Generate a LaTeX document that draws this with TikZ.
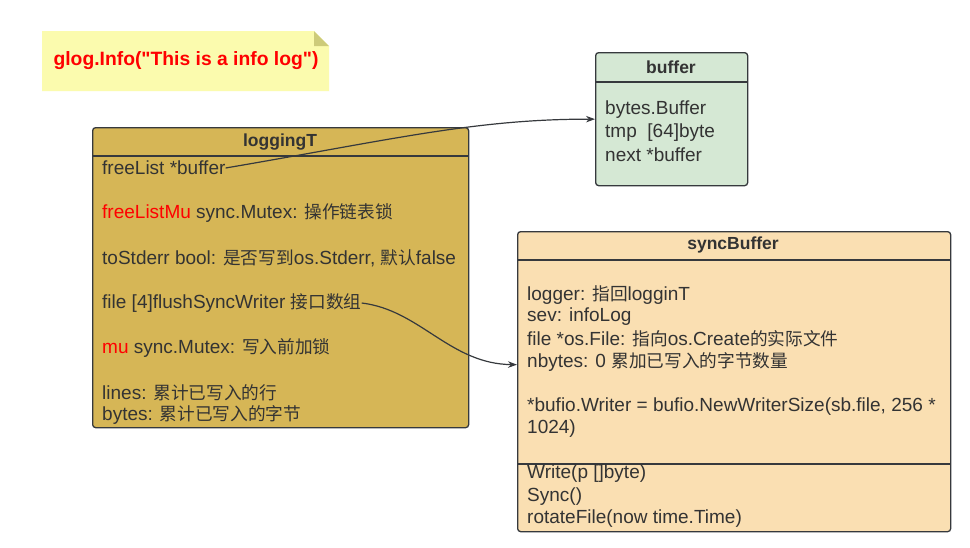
\documentclass[tikz,border=0pt]{standalone}
\usepackage{fontspec}
\setmainfont{Liberation Sans}[Ligatures=TeXOff]
\newfontfamily\cjk[Scale=0.93]{Noto Sans CJK SC}
\usetikzlibrary{arrows.meta}

\newcommand{\zh}[1]{{\cjk #1}}

\definecolor{boxline}{HTML}{36393D}
\definecolor{txtgray}{HTML}{333333}
\definecolor{notefill}{HTML}{FBFBAE}
\definecolor{notefold}{HTML}{CDCB7A}
\definecolor{logfill}{HTML}{D6B656}
\definecolor{buffill}{HTML}{D5E8D4}
\definecolor{syncfill}{HTML}{FADFB2}

\tikzset{
    umlbox/.style={draw=boxline, line width=1.3pt, rounded corners=3pt, anchor=north west, inner sep=0pt},
    headtext/.style={font=\bfseries\fontsize{17.5}{20}\selectfont, text=txtgray},
    field/.style={anchor=west, inner sep=0pt, font=\fontsize{19}{22}\selectfont, text=txtgray},
    sepline/.style={draw=boxline, line width=1.3pt},
    link/.style={draw=boxline, line width=1.2pt, -{Stealth[length=9pt, width=6.5pt]}},
}

\begin{document}
\begin{tikzpicture}[x=1pt, y=-1pt]
    \useasboundingbox[fill=white] (0,0) rectangle (970,547);

    % note
    \fill[notefill] (42,31) -- (314,31) -- (329,46) -- (329,91) -- (42,91) -- cycle;
    \fill[notefold] (314,31) -- (329,46) -- (314,46) -- cycle;
    \node[font=\bfseries\fontsize{19.3}{20}\selectfont, text=red] (notetext) at (186,61) {glog.Info("This is a info log")};

    % loggingT
    \node[umlbox, fill=logfill, minimum width=376pt, minimum height=300pt] (logging) at (92,127) {};
    \draw[sepline] (92,156) -- (468,156);
    \node[headtext] (loggingT) at (280,142) {loggingT};
    \node[field] (freelist) at (102,168) {freeList *buffer};
    \node[field] (freelistmu) at (102,213) {\textcolor{red}{freeListMu} sync.Mutex: \zh{操作链表锁}};
    \node[field] (tostderr) at (102,258) {toStderr bool: \zh{是否写到}os.Stderr, \zh{默认}false};
    \node[field] (filearr) at (102,303) {file [4]flushSyncWriter \zh{接口数组}};
    \node[field] (mutex) at (102,348) {\textcolor{red}{mu} sync.Mutex: \zh{写入前加锁}};
    \node[field] (lines) at (102,393) {lines: \zh{累计已写入的行}};
    \node[field] (bytes) at (102,415) {bytes: \zh{累计已写入的字节}};

    % buffer
    \node[umlbox, fill=buffill, minimum width=152pt, minimum height=133pt] (buffer) at (595,52) {};
    \draw[sepline] (595,82) -- (747,82);
    \node[headtext] (bufhead) at (671,67) {buffer};
    \node[field] (bbuf) at (605,110) {bytes.Buffer};
    \node[field] (btmp) at (605,133) {tmp\ \ [64]byte};
    \node[field] (bnext) at (605,155) {next *buffer};

    % syncBuffer
    \node[umlbox, fill=syncfill, minimum width=433pt, minimum height=300pt] (sync) at (517,231) {};
    \draw[sepline] (517,260) -- (950,260);
    \draw[sepline] (517,464) -- (950,464);
    \node[headtext] (synchead) at (733,245) {syncBuffer};
    \node[field] (slogger) at (527,295) {logger: \zh{指回}logginT};
    \node[field] (ssev) at (527,317) {sev: infoLog};
    \node[field] (sfile) at (527,339) {file *os.File: \zh{指向}os.Create\zh{的实际文件}};
    \node[field] (snbytes) at (527,362) {nbytes: 0 \zh{累加已写入的字节数量}};
    \node[field] (swriter) at (527,407) {*bufio.Writer = bufio.NewWriterSize(sb.file, 256 *};
    \node[field] (swriter2) at (527,429) {1024)};
    \node[field] (swrite) at (527,474) {Write(p []byte)};
    \node[field] (ssync) at (527,497) {Sync()};
    \node[field] (srotate) at (527,519) {rotateFile(now time.Time)};

    % links
    \draw[link] (freelist.east) .. controls (390,140) and (475,119) .. (buffer.west);
    \draw[link] (filearr.east) .. controls (420,310) and (450,364) .. ([yshift=17pt]sync.west);
\end{tikzpicture}
\end{document}
